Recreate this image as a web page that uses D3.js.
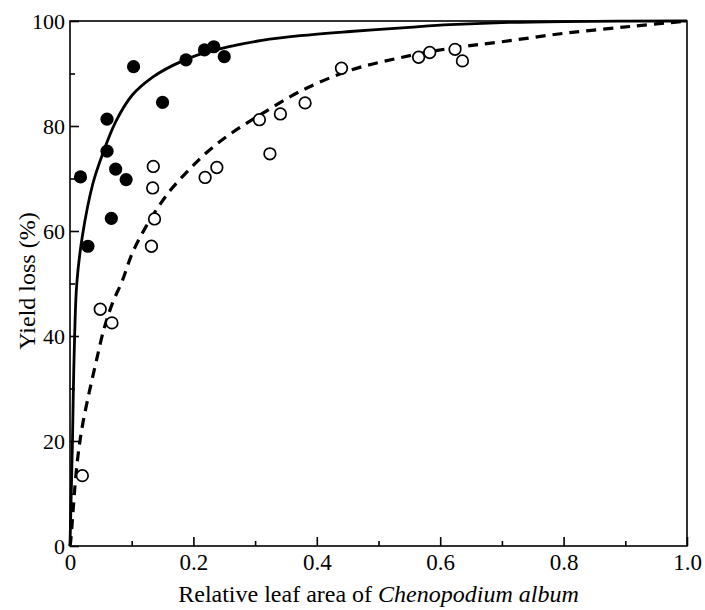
<!DOCTYPE html>
<html>
<head>
<meta charset="utf-8">
<script src="https://cdn.jsdelivr.net/npm/d3@7"></script>
<style>
  body { margin: 0; background: #fff; }
  svg text { font-family: "Liberation Serif", "Times New Roman", Times, "DejaVu Serif", serif !important; fill: #000; }
</style>
</head>
<body>
<svg id="chart" width="705" height="610"></svg>
<script>
// filled circles (solid fit) - relative leaf area vs yield loss %
var filledX = [0.017, 0.029, 0.060, 0.060, 0.067, 0.074, 0.091, 0.103, 0.150, 0.188, 0.218, 0.233, 0.250];
var filledY = [70.3, 57.1, 81.3, 75.2, 62.4, 71.8, 69.8, 91.3, 84.5, 92.6, 94.5, 95.1, 93.2];

// open circles (dashed fit)
var openX = [0.020, 0.049, 0.068, 0.132, 0.134, 0.135, 0.137, 0.219, 0.238, 0.307, 0.324, 0.341, 0.381, 0.440, 0.565, 0.583, 0.624, 0.636];
var openY = [13.4, 45.1, 42.5, 57.1, 68.2, 72.3, 62.3, 70.2, 72.1, 81.2, 74.7, 82.3, 84.4, 91.0, 93.1, 94.0, 94.6, 92.4];

// fitted curves
var solidX = [0, 0.002, 0.004, 0.0055, 0.0075, 0.011, 0.02, 0.037, 0.0526, 0.074, 0.101, 0.134, 0.166, 0.204, 0.258, 0.311, 0.373, 0.454, 0.55, 0.616, 0.7, 0.8, 1.0];
var solidY = [0, 10, 20, 30, 40, 50, 59, 69, 74.6, 80.8, 85.9, 89.3, 91.5, 93.4, 95.1, 96.3, 97.2, 98.0, 98.8, 99.3, 99.7, 99.9, 100];

var dashX = [0, 0.001, 0.004, 0.0068, 0.0105, 0.015, 0.021, 0.031, 0.042, 0.055, 0.069, 0.085, 0.101, 0.122, 0.141, 0.163, 0.190, 0.222, 0.260, 0.308, 0.373, 0.454, 0.535, 0.616, 0.697, 0.804, 0.912, 1.0];
var dashY = [0, 0.8, 5.1, 9.6, 14.6, 19.1, 23.5, 29.2, 34.9, 41.3, 46.3, 50.6, 55.8, 60.6, 64.2, 67.8, 71.3, 75.0, 78.5, 82.1, 86.6, 90.6, 93.0, 94.8, 96.0, 97.7, 99.0, 100];

var xTicks = [0, 0.2, 0.4, 0.6, 0.8, 1.0];
var xMinor = [0.1, 0.3, 0.5, 0.7, 0.9];
var yTicks = [0, 20, 40, 60, 80, 100];
var yMinor = [10, 30, 50, 70, 90];

var svg = d3.select("#chart"),
  margin = { top: 21, right: 18, bottom: 64, left: 70 },
  width = +svg.attr("width") - margin.left - margin.right,
  height = +svg.attr("height") - margin.top - margin.bottom;

var g = svg.append("g").attr("transform", `translate(${margin.left}, ${margin.top})`);

var x = d3.scaleLinear().domain([0, 1]).range([0, width]);
var y = d3.scaleLinear().domain([0, 100]).range([height, 0]);

// frame
g.append("rect")
  .attr("width", width)
  .attr("height", height)
  .attr("fill", "none")
  .attr("stroke", "#000")
  .attr("stroke-width", 1.6);

// major ticks + labels (pointing inward)
var xAxis = d3.axisBottom(x).tickValues(xTicks).tickSize(-9).tickPadding(8)
  .tickFormat((d) => (d === 0 ? "0" : d3.format(".1f")(d)));
g.append("g")
  .attr("transform", `translate(0, ${height})`)
  .call(xAxis)
  .attr("font-family", null)
  .call((a) => a.select(".domain").remove())
  .call((a) => a.selectAll(".tick line").attr("stroke-width", 1.6))
  .call((a) => a.selectAll(".tick text").attr("font-size", 23));

g.append("g")
  .attr("transform", `translate(0, ${height})`)
  .call(d3.axisBottom(x).tickValues(xMinor).tickSize(-5).tickFormat(""))
  .call((a) => a.select(".domain").remove())
  .call((a) => a.selectAll(".tick line").attr("stroke-width", 1.6));

var yAxis = d3.axisLeft(y).tickValues(yTicks).tickSize(-9).tickPadding(5);
g.append("g")
  .call(yAxis)
  .attr("font-family", null)
  .call((a) => a.select(".domain").remove())
  .call((a) => a.selectAll(".tick line").attr("stroke-width", 1.6))
  .call((a) => a.selectAll(".tick text").attr("font-size", 22));

g.append("g")
  .call(d3.axisLeft(y).tickValues(yMinor).tickSize(-5).tickFormat(""))
  .call((a) => a.select(".domain").remove())
  .call((a) => a.selectAll(".tick line").attr("stroke-width", 1.6));

// curves
var line = d3.line()
  .x((d) => x(d[0]))
  .y((d) => y(d[1]))
  .curve(d3.curveCatmullRom.alpha(0.5));

g.append("path")
  .datum(solidX.map((d, i) => [d, solidY[i]]))
  .attr("d", line)
  .attr("fill", "none")
  .attr("stroke", "#000")
  .attr("stroke-width", 2.8);

g.append("path")
  .datum(dashX.map((d, i) => [d, dashY[i]]))
  .attr("d", line)
  .attr("fill", "none")
  .attr("stroke", "#000")
  .attr("stroke-width", 3.2)
  .attr("stroke-dasharray", "10,7");

// points
g.selectAll("circle.open")
  .data(openX.map((d, i) => [d, openY[i]]))
  .enter()
  .append("circle")
  .attr("class", "open")
  .attr("cx", (d) => x(d[0]))
  .attr("cy", (d) => y(d[1]))
  .attr("r", 5.8)
  .attr("fill", "#fff")
  .attr("stroke", "#000")
  .attr("stroke-width", 1.7);

g.selectAll("circle.filled")
  .data(filledX.map((d, i) => [d, filledY[i]]))
  .enter()
  .append("circle")
  .attr("class", "filled")
  .attr("cx", (d) => x(d[0]))
  .attr("cy", (d) => y(d[1]))
  .attr("r", 6.6)
  .attr("fill", "#000");

// axis titles
var xt = svg.append("text")
  .attr("x", margin.left + width / 2)
  .attr("y", 602)
  .attr("text-anchor", "middle")
  .attr("font-size", 24);
xt.append("tspan").text("Relative leaf area of ");
xt.append("tspan").attr("font-style", "italic").text("Chenopodium album");

svg.append("text")
  .attr("transform", "translate(35, 281) rotate(-90)")
  .attr("text-anchor", "middle")
  .attr("font-size", 24)
  .text("Yield loss (%)");
</script>
</body>
</html>
